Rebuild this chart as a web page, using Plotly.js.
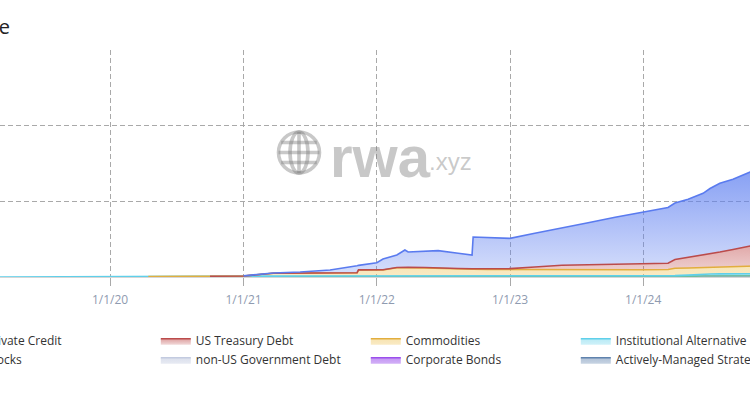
<!DOCTYPE html>
<html>
<head>
<meta charset="utf-8">
<script src="https://cdn.plot.ly/plotly-3.0.1.min.js"></script>
<style>
  html, body { margin: 0; padding: 0; width: 750px; height: 398px; overflow: hidden; background: #fff; }
  #chart { position: absolute; left: -100px; top: 0; width: 950px; height: 398px; }
</style>
</head>
<body>
<div id="chart"></div>
<script>
// ---- data (values in $ billions); null = series not yet tracked ----
const dates = ['2019-03-01','2019-09-01','2020-01-01','2020-04-15','2020-10-01','2021-01-01','2021-03-23','2021-06-05','2021-08-26','2021-11-08','2021-11-12','2022-01-01','2022-01-18','2022-02-25','2022-03-19','2022-03-28','2022-05-13','2022-06-18','2022-08-12','2022-09-19','2022-09-22','2022-11-02','2023-01-01','2023-03-10','2023-05-23','2023-08-03','2023-10-16','2023-12-30','2024-03-09','2024-03-28','2024-05-03','2024-06-13','2024-07-02','2024-07-29','2024-09-03','2024-10-20','2024-12-15','2025-02-01','2025-03-10'];

const privateCredit = [null,null,null,null,null,0.02,0.04,0.16,0.42,0.92,0.60,0.97,1.43,1.65,2.27,2.02,2.19,2.30,2.00,1.81,4.19,4.15,4.00,4.45,4.89,5.57,6.21,6.71,7.36,7.47,7.69,8.15,8.66,9.08,9.28,9.78,10.6,11.25,11.8];
const usTreasury = [null,null,null,null,0,0,0,0,0,0.01,0.01,0.02,0.03,0.04,0.05,0.05,0.06,0.06,0.07,0.08,0.08,0.10,0.12,0.35,0.62,0.68,0.75,0.86,0.82,1.16,1.39,1.65,1.76,1.98,2.24,2.65,2.88,3.25,3.38];
const commodities = [null,null,null,0.05,0.09,0.10,0.37,0.37,0.38,0.43,0.80,0.77,0.79,1.09,1.12,1.10,1.05,0.98,0.92,0.88,0.88,0.84,0.83,0.82,0.77,0.76,0.76,0.78,0.82,0.97,0.94,0.88,0.88,0.91,0.97,1.02,1.08,1.15,1.17];
const instAlt = [0.005,0.005,0.005,0.005,0.005,0.02,0.11,0.12,0.12,0.12,0.12,0.12,0.11,0.11,0.11,0.11,0.12,0.12,0.12,0.12,0.10,0.12,0.11,0.11,0.11,0.12,0.12,0.12,0.13,0.13,0.17,0.25,0.26,0.26,0.27,0.28,0.28,0.29,0.29];
const stocks = [null,0.01,0.01,0.01,0.01,0.01,0.01,0.01,0.01,0.01,0.01,0.01,0.01,0.01,0.01,0.01,0.01,0.01,0.01,0.01,0.01,0.01,0.01,0.01,0.01,0.01,0.01,0.01,0.01,0.01,0.01,0.01,0.01,0.01,0.01,0.01,0.01,0.01,0.01];
const nonUSGov = [null,null,null,null,null,null,null,null,null,null,null,null,null,null,null,null,null,null,null,null,null,null,0.01,0.01,0.01,0.01,0.01,0.01,0.01,0.01,0.01,0.01,0.01,0.01,0.01,0.01,0.01,0.01,0.01];
const corpBonds = [null,null,null,null,null,null,null,null,null,null,null,null,null,null,null,null,null,null,null,null,0.02,0.02,0.02,0.02,0.02,0.02,0.02,0.02,0.02,0.02,0.05,0.10,0.11,0.12,0.12,0.12,0.13,0.13,0.13];
const activelyManaged = [null,null,null,null,null,null,null,null,null,null,null,null,0.01,0.01,0.01,0.01,0.01,0.01,0.01,0.01,0.01,0.01,0.01,0.01,0.01,0.01,0.01,0.01,0.01,0.01,0.01,0.01,0.01,0.01,0.01,0.01,0.01,0.01,0.01];

const yearTicks = ['2019-01-01','2020-01-01','2021-01-01','2022-01-01','2023-01-01','2024-01-01','2025-01-01'];
const yearLabels = ['1/1/19','1/1/20','1/1/21','1/1/22','1/1/23','1/1/24','1/1/25'];
const yTicks = [0, 10, 20, 30];
const yLabels = ['$0', '$10B', '$20B', '$30B'];

// bottom of the stack first
const seriesDefs = [
  {name: 'Actively-Managed Strategies', y: activelyManaged, line: '#5f82ad', fill: ['rgba(95,130,173,0.35)','rgba(95,130,173,0.5)']},
  {name: 'Corporate Bonds', y: corpBonds, line: '#9b4fec', fill: ['rgba(155,79,236,0.45)','rgba(155,79,236,0.6)']},
  {name: 'non-US Government Debt', y: nonUSGov, line: '#c3cbe0', fill: ['rgba(195,203,224,0.4)','rgba(195,203,224,0.6)']},
  {name: 'Stocks', y: stocks, line: '#6cbf9c', fill: ['rgba(108,191,156,0.35)','rgba(108,191,156,0.5)']},
  {name: 'Institutional Alternative Funds', y: instAlt, line: '#5fd0ea', fill: ['rgba(95,208,234,0.3)','rgba(95,208,234,0.45)']},
  {name: 'Commodities', y: commodities, line: '#e2ae3e', fill: ['rgba(240,200,100,0.38)','rgba(240,200,100,0.5)']},
  {name: 'US Treasury Debt', y: usTreasury, line: '#bb4b4b', fill: ['rgba(200,100,100,0.25)','rgba(200,100,100,0.62)'], stop: 5},
  {name: 'Private Credit', y: privateCredit, line: '#5a7bef', fill: ['rgba(95,128,240,0.25)','rgba(95,128,240,0.85)'], stop: 17}
];

// stacked areas: running totals, each series drawn only over the dates where it has data
const running = dates.map(() => 0);
const traces = seriesDefs.map((s, k) => {
  s.y.forEach((v, i) => { if (v !== null) running[i] += v; });
  const idx = s.y.map((v, i) => i).filter(i => s.y[i] !== null);
  return {
    type: 'scatter', mode: 'lines', name: s.name,
    x: idx.map(i => dates[i]), y: idx.map(i => running[i]),
    fill: k === 0 ? 'tozeroy' : 'tonexty',
    line: {color: s.line, width: 1.6, shape: 'linear'},
    fillgradient: {type: 'vertical', colorscale: [[0, s.fill[0]], [1, s.fill[1]]], start: 0, stop: s.stop || 2},
    hoverinfo: 'skip'
  };
});

const wm = 'rgba(125,125,125,0.42)';
const cx = 0.40357, cy = 0.54846; // globe centre (paper)
function gshape(type, x0, x1, y0, y1) {
  return {type: type, xref: 'paper', yref: 'paper', xsizemode: 'pixel', ysizemode: 'pixel',
    xanchor: cx, yanchor: cy, x0: x0, x1: x1, y0: y0, y1: y1,
    line: {color: wm, width: 3.6}, layer: 'below'};
}
const shapes = [
  gshape('circle', -20.5, 20.5, -20.5, 20.5),
  gshape('circle', -9, 9, -20.5, 20.5),
  gshape('line', 0, 0, -20.5, 20.5),
  gshape('line', -20.5, 20.5, 0, 0),
  gshape('line', -17.8, 17.8, 10, 10),
  gshape('line', -17.8, 17.8, -10, -10)
];

const layout = {
  width: 950, height: 398,
  margin: {l: 60, r: 50, t: 50, b: 121},
  paper_bgcolor: '#ffffff', plot_bgcolor: '#ffffff',
  showlegend: true,
  title: {text: 'Total RWA Value', xref: 'container', yref: 'container', x: 0.1158, xanchor: 'right', y: 1 - 27/398, yanchor: 'middle',
    font: {family: 'Open Sans, sans-serif', size: 20, color: '#222'}},
  font: {family: 'Open Sans, sans-serif', size: 12, color: '#3a3a3a'},
  xaxis: {
    type: 'date', range: ['2018-11-16', '2025-03-05 14:00'],
    tickmode: 'array', tickvals: yearTicks, ticktext: yearLabels,
    showgrid: true, gridcolor: '#a9a9a9', griddash: '5px,3px', gridwidth: 1,
    ticks: 'outside', ticklen: 8, tickcolor: '#a9a9a9', tickwidth: 1, ticklabelstandoff: 4,
    showline: true, linecolor: '#d6d6d6', linewidth: 1,
    tickfont: {family: 'Open Sans, sans-serif', size: 12, color: '#8f9bb0'},
    zeroline: false, fixedrange: true
  },
  yaxis: {
    range: [0, 30], tickmode: 'array', tickvals: yTicks, ticktext: yLabels,
    showgrid: true, gridcolor: '#a9a9a9', griddash: '5px,3px', gridwidth: 1,
    zeroline: false, showline: false,
    tickfont: {family: 'Open Sans, sans-serif', size: 12, color: '#8f9bb0'},
    fixedrange: true
  },
  legend: {
    orientation: 'h', x: -0.0169, xanchor: 'left', y: -0.2168, yanchor: 'top',
    traceorder: 'reversed', entrywidth: 165, entrywidthmode: 'pixels',
    font: {family: 'Open Sans, sans-serif', size: 12, color: '#333333'},
    bgcolor: 'rgba(0,0,0,0)'
  },
  shapes: shapes,
  annotations: [
    {text: '<b>rwa</b>', xref: 'paper', yref: 'paper', x: (328 + 40) / 840, xanchor: 'left', y: (277 - 156) / 227, yanchor: 'middle',
      showarrow: false, font: {family: 'Liberation Sans, Arial, sans-serif', size: 58, color: wm}},
    {text: '.xyz', xref: 'paper', yref: 'paper', x: (427 + 40) / 840, xanchor: 'left', y: (277 - 161) / 227, yanchor: 'middle',
      showarrow: false, font: {family: 'Liberation Sans, Arial, sans-serif', size: 24, color: wm}}
  ]
};

Plotly.newPlot('chart', traces, layout, {displayModeBar: false, staticPlot: true});
</script>
</body>
</html>
